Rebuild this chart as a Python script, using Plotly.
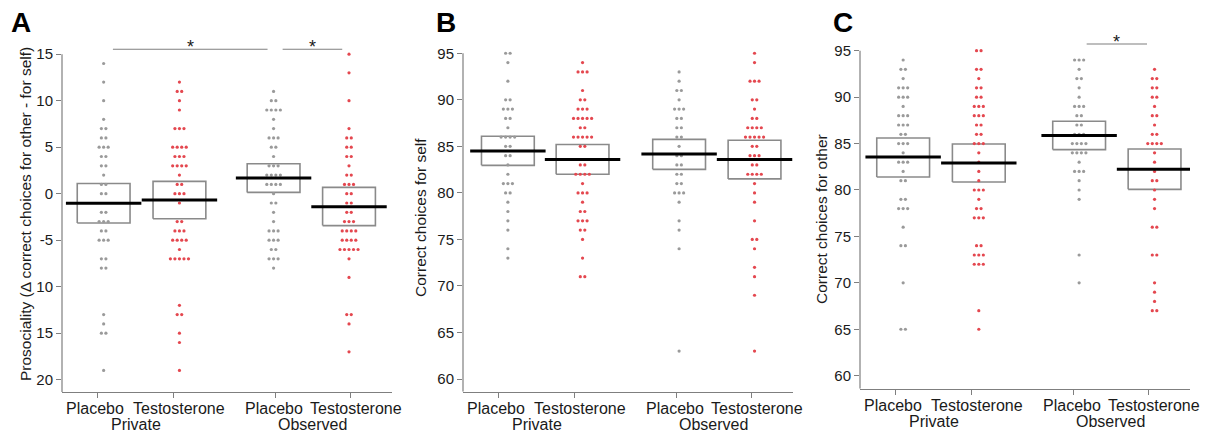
import plotly.graph_objects as go

# ---------------- data ----------------
conditions = ["Placebo", "Testosterone", "Placebo", "Testosterone"]
contexts = ["Private", "Observed"]

# Panel A: prosociality (correct choices for other - for self)
a_placebo_private = [14, 12, 10, 8, 7, 7, 6, 6, 5, 5, 5, 4, 4, 3, 3, 2, 1, 1, 0, 0,
                     -2, -2, -3, -3, -3, -4, -4, -5, -5, -5, -7, -7, -8, -8,
                     -13, -14, -15, -15, -19]
a_testo_private = [12, 11, 11, 10, 9, 7, 7, 7, 5, 5, 5, 5, 4, 4, 4, 3, 3, 3, 3, 2,
                   1, 1, 0, 0, 0, -1, -3, -3, -4, -4, -4, -5, -5, -5, -5, -6,
                   -7, -7, -7, -7, -7, -12, -13, -13, -15, -16, -19]
a_placebo_observed = [11, 10, 10, 9, 9, 9, 9, 8, 7, 6, 6, 6, 5, 5, 4, 3, 3, 3,
                      2, 2, 2, 2, 1, 1, 1, 1, 0, -1, -1, -2, -3, -4, -4, -4,
                      -5, -5, -5, -6, -6, -7, -7, -7, -8]
a_testo_observed = [15, 13, 10, 7, 6, 6, 5, 5, 4, 4, 3, 2, 2, 1, 1, 1, 0, 0, -1, -1,
                    -2, -2, -3, -3, -3, -4, -4, -4, -4, -5, -5, -5, -5,
                    -6, -6, -6, -6, -6, -7, -9, -13, -13, -14, -17]
a_means = [-1.04, -0.68, 1.68, -1.39]
a_low = [-3.15, -2.70, 0.14, -3.43]
a_high = [1.10, 1.32, 3.22, 0.68]
a_ticks = [15, 10, 5, 0, -5, -10, -15, -20]
a_ticktext = ["15", "10", "5", "0", "-5", "10", "15", "20"]

# Panel B: correct choices for self
b_placebo_private = [95, 95, 94, 92, 90, 90, 89, 89, 89, 88, 88, 87, 86, 86, 86, 86,
                     85, 85, 84, 84, 83, 82, 81, 81, 81, 80, 80, 79, 78, 77, 76, 74, 73]
b_testo_private = [94, 93, 93, 93, 91, 90, 90, 89, 89, 89, 88, 88, 88, 88, 88, 87, 87,
                   86, 86, 86, 86, 86, 85, 85, 83, 83, 82, 82, 82, 82, 81, 80, 80, 80,
                   79, 78, 78, 77, 77, 77, 76, 76, 75, 73, 71, 71]
b_placebo_observed = [93, 92, 91, 91, 90, 89, 89, 89, 88, 88, 87, 87, 86, 86, 85, 84, 84,
                      83, 83, 82, 82, 81, 81, 80, 80, 80, 79, 77, 76, 74, 63]
b_testo_observed = [95, 94, 92, 92, 92, 90, 90, 89, 88, 88, 87, 87, 87, 87, 86, 86, 86,
                    86, 86, 85, 85, 84, 84, 84, 83, 83, 82, 82, 82, 82, 81, 80, 79, 77,
                    75, 75, 74, 72, 71, 69, 63]
b_means = [84.5, 83.6, 84.17, 83.6]
b_low = [82.96, 82.0, 82.53, 81.5]
b_high = [86.08, 85.2, 85.75, 85.65]
b_ticks = [95, 90, 85, 80, 75, 70, 65, 60]

# Panel C: correct choices for other
c_placebo_private = [94, 93, 93, 92, 91, 91, 91, 90, 90, 90, 89, 88, 88, 88, 87, 87, 87,
                     86, 86, 85, 85, 85, 84, 83, 83, 83, 82, 81, 81, 79, 79, 78, 78, 78,
                     76, 74, 74, 70, 65, 65]
c_testo_private = [95, 95, 93, 93, 92, 91, 91, 90, 90, 89, 89, 89, 88, 88, 88, 87, 87,
                   86, 86, 85, 85, 85, 84, 83, 82, 81, 80, 80, 80, 79, 78, 78, 77, 77,
                   77, 74, 74, 73, 73, 73, 72, 72, 72, 67, 65]
c_placebo_observed = [94, 94, 94, 93, 92, 92, 91, 90, 89, 89, 89, 88, 88, 87, 87, 86, 86,
                      86, 85, 85, 85, 85, 84, 84, 84, 84, 83, 82, 82, 82, 81, 80, 79,
                      73, 70]
c_testo_observed = [93, 92, 92, 91, 91, 90, 90, 89, 88, 88, 87, 86, 86, 85, 85, 85, 85,
                    84, 83, 82, 81, 81, 80, 79, 78, 76, 76, 73, 73, 70, 69, 68, 67, 67]
c_means = [83.56, 82.9, 85.86, 82.23]
c_low = [81.4, 80.86, 84.35, 80.07]
c_high = [85.6, 84.96, 87.4, 84.42]
c_ticks = [95, 90, 85, 80, 75, 70, 65, 60]

# ---------------- styling / layout ----------------
FONT = "Liberation Sans, Arial, sans-serif"
GREY = "#9a9a9a"
RED = "#e4474f"
AXIS = "#7f7f7f"
BOXC = "#8a8a8a"
TXT = "#1a1a1a"

# the page body has an 8px margin; the figure is sized so that it fills the window
OFF = 8
W, H = 1210 - OFF, 432 - OFF


def px_x(px):
    return (px - OFF) / W


def px_y(py):
    return 1 - (py - OFF) / H


tick_pos = [1, 2, 3.35, 4.35]
xrange_ = [0.525, 4.9]
BOX_HW = 0.35
MEAN_HW = 0.5
DX = 0.06

panels = [
    dict(letter="A", groups=[a_placebo_private, a_testo_private, a_placebo_observed, a_testo_observed],
         means=a_means, low=a_low, high=a_high, ticks=a_ticks, ticktext=a_ticktext,
         centers=[1.077, 2.082, 3.33, 4.33], xdom=(62, 392), ybottom_px=392,
         yrange=[-21.32, 17.6], title="Prosociality (Δ correct choices for other - for self)",
         title_x=25, title_y=214, letter_x=21,
         sig=[(1.2, 3.25, 15.53), (3.45, 4.24, 15.53)]),
    dict(letter="B", groups=[b_placebo_private, b_testo_private, b_placebo_observed, b_testo_observed],
         means=b_means, low=b_low, high=b_high, ticks=b_ticks, ticktext=[str(t) for t in b_ticks],
         centers=[1.12, 2.11, 3.39, 4.39], xdom=(463, 793), ybottom_px=391.7,
         yrange=[58.64, 97.5], title="Correct choices for self", title_x=420, title_y=217,
         letter_x=446, sig=[]),
    dict(letter="C", groups=[c_placebo_private, c_testo_private, c_placebo_observed, c_testo_observed],
         means=c_means, low=c_low, high=c_high, ticks=c_ticks, ticktext=[str(t) for t in c_ticks],
         centers=[1.097, 2.10, 3.43, 4.43], xdom=(860, 1190), ybottom_px=388.7,
         yrange=[58.6, 97.23], title="Correct choices for other", title_x=821, title_y=219,
         letter_x=843, sig=[(3.53, 4.33, 95.72)]),
]

colors = [GREY, RED, GREY, RED]
label_shift = [-0.04, 0.08, -0.02, 0.075]

fig = go.Figure()
annotations = []
shapes = []
layout_axes = {}

for p_i, p in enumerate(panels):
    sfx = "" if p_i == 0 else str(p_i + 1)
    xa, ya = "x" + sfx, "y" + sfx
    # boxes
    for g in range(4):
        c = p["centers"][g]
        lo, hi = p["low"][g], p["high"][g]
        fig.add_trace(go.Scatter(
            x=[c - BOX_HW, c + BOX_HW, c + BOX_HW, c - BOX_HW, c - BOX_HW],
            y=[lo, lo, hi, hi, lo], mode="lines",
            line=dict(color=BOXC, width=1.6), xaxis=xa, yaxis=ya, hoverinfo="skip"))
    # points (deterministic spread for tied values)
    for g, vals in enumerate(p["groups"]):
        c = p["centers"][g]
        counts = {}
        for v in vals:
            counts[v] = counts.get(v, 0) + 1
        xs, ys = [], []
        for v, k in counts.items():
            for i in range(k):
                xs.append(c + (i - (k - 1) / 2) * DX)
                ys.append(v)
        fig.add_trace(go.Scatter(
            x=xs, y=ys, mode="markers", cliponaxis=False,
            marker=dict(color=colors[g], size=3.2, line=dict(width=0)),
            xaxis=xa, yaxis=ya, hoverinfo="skip"))
    # mean lines
    for g in range(4):
        c = p["centers"][g]
        m = p["means"][g]
        fig.add_trace(go.Scatter(
            x=[c - MEAN_HW, c + MEAN_HW], y=[m, m], mode="lines",
            line=dict(color="black", width=3), xaxis=xa, yaxis=ya, hoverinfo="skip"))
    # significance bars
    for (x0, x1, yv) in p["sig"]:
        fig.add_trace(go.Scatter(
            x=[x0, x1], y=[yv, yv], mode="lines",
            line=dict(color=AXIS, width=1.2), xaxis=xa, yaxis=ya, hoverinfo="skip"))
        annotations.append(dict(x=(x0 + x1) / 2, y=yv, xref=xa, yref=ya, text="*",
                                showarrow=False, yanchor="middle", yshift=2,
                                font=dict(family=FONT, size=18, color=TXT)))

    layout_axes["xaxis" + sfx] = dict(
        domain=[px_x(p["xdom"][0]), px_x(p["xdom"][1])], range=xrange_, anchor=ya,
        tickvals=tick_pos, showticklabels=False, ticks="outside", ticklen=5,
        tickcolor=AXIS, tickwidth=1, showline=True, linecolor=AXIS, linewidth=1.2,
        showgrid=False, zeroline=False, fixedrange=True)
    layout_axes["yaxis" + sfx] = dict(
        domain=[px_y(p["ybottom_px"]), px_y(30)], range=p["yrange"], anchor=xa,
        tickvals=p["ticks"], ticktext=p["ticktext"], ticks="outside", ticklen=5,
        tickcolor=AXIS, tickwidth=1, showline=False, showgrid=False, zeroline=False,
        tickfont=dict(family=FONT, size=15, color=TXT), fixedrange=True)
    # L-shaped left axis line up to the top tick
    shapes.append(dict(type="line", xref=xa + " domain", yref=ya,
                       x0=0, x1=0, y0=p["yrange"][0], y1=max(p["ticks"]),
                       line=dict(color=AXIS, width=1.2)))
    # x labels
    for g in range(4):
        annotations.append(dict(x=tick_pos[g] + label_shift[g], y=0, xref=xa, yref=ya + " domain",
                                text=conditions[g], showarrow=False, yanchor="middle", yshift=-16.5,
                                font=dict(family=FONT, size=16, color=TXT)))
    for k in range(2):
        annotations.append(dict(x=(tick_pos[2 * k] + tick_pos[2 * k + 1]) / 2, y=0, xref=xa,
                                yref=ya + " domain", text=contexts[k], showarrow=False,
                                yanchor="middle", yshift=-32.5,
                                font=dict(family=FONT, size=16, color=TXT)))
    # y title
    annotations.append(dict(x=px_x(p["title_x"]), y=px_y(p["title_y"]), xref="paper", yref="paper",
                            text=p["title"], textangle=-90, showarrow=False,
                            xanchor="center", yanchor="middle",
                            font=dict(family=FONT, size=15.5, color=TXT)))
    # panel letter
    annotations.append(dict(x=px_x(p["letter_x"]), y=px_y(23), xref="paper", yref="paper",
                            text="<b>" + p["letter"] + "</b>", showarrow=False,
                            xanchor="center", yanchor="middle",
                            font=dict(family=FONT, size=28, color="black")))

fig.update_layout(
    width=W, height=H, margin=dict(l=0, r=0, t=0, b=0),
    paper_bgcolor="white", plot_bgcolor="white", showlegend=False,
    annotations=annotations, shapes=shapes, **layout_axes)

fig.write_html("out.html")
